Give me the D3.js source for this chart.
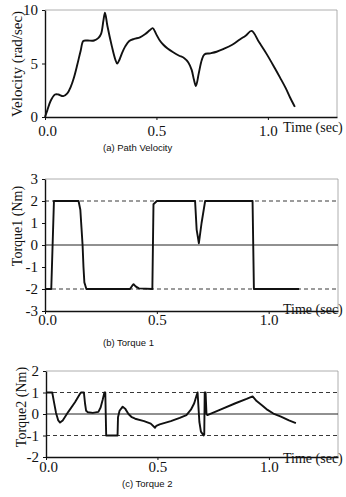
<!DOCTYPE html>
<html>
<head>
<meta charset="utf-8">
<script src="https://cdn.jsdelivr.net/npm/d3@7"></script>
<style>
  body { margin: 0; background: #fff; }
  svg { display: block; }
  .caption { font-family: "Liberation Sans Narrow", "Liberation Sans", Arial, sans-serif; font-size: 9.5px; fill: #111; }
  .title { font-family: "Liberation Serif", "Times New Roman", serif; fill: #111; }
</style>
</head>
<body>
<div id="chart"></div>
<script>
// x ticks shared by the three panels
const timeTicks = [0, 0.5, 1.0];

// (a) path velocity
const velTime = [0, 0.01, 0.025, 0.045, 0.06, 0.082, 0.10, 0.115, 0.13, 0.145, 0.16, 0.172, 0.19, 0.22, 0.24, 0.252, 0.262, 0.269, 0.28, 0.30, 0.315, 0.324, 0.335, 0.345, 0.36, 0.378, 0.40, 0.426, 0.45, 0.47, 0.483, 0.50, 0.515, 0.531, 0.55, 0.575, 0.60, 0.625, 0.643, 0.658, 0.668, 0.677, 0.69, 0.703, 0.715, 0.74, 0.77, 0.80, 0.84, 0.874, 0.90, 0.927, 0.96, 0.994, 1.03, 1.054, 1.08, 1.10, 1.121];
const velValue = [0, 0.6, 1.5, 2.1, 2.1, 1.95, 2.2, 2.8, 3.7, 4.9, 6.2, 7.1, 7.15, 7.15, 7.4, 7.8, 9.0, 9.75, 8.5, 6.6, 5.4, 5.0, 5.4, 5.95, 6.6, 7.1, 7.3, 7.45, 7.75, 8.1, 8.3, 7.7, 7.15, 6.75, 6.4, 6.05, 5.75, 5.5, 5.1, 4.4, 3.5, 2.9, 4.1, 5.3, 5.85, 5.95, 6.1, 6.35, 6.75, 7.25, 7.6, 8.05, 7.0, 5.9, 4.6, 3.7, 2.7, 1.8, 0.95];
const velTicks = [0, 5, 10];

// (b) torque 1
const tq1Time = [0, 0.028, 0.04, 0.150, 0.158, 0.163, 0.168, 0.172, 0.176, 0.185, 0.38, 0.39, 0.396, 0.405, 0.42, 0.48, 0.485, 0.50, 0.671, 0.678, 0.688, 0.70, 0.716, 0.928, 0.934, 1.136];
const tq1Value = [-2, -2, 2, 2, 1.6, 0.8, 0, -1.0, -1.7, -2, -2, -1.85, -1.78, -1.88, -1.97, -2, 1.85, 2, 2, 0.7, 0.08, 1.0, 2, 2, -2, -2];
const tq1Ticks = [-3, -2, -1, 0, 1, 2, 3];
const tq1Limits = [-2, 2];

// (c) torque 2
const tq2Time = [0, 0.028, 0.035, 0.045, 0.055, 0.063, 0.075, 0.10, 0.13, 0.15, 0.157, 0.170, 0.175, 0.180, 0.188, 0.21, 0.235, 0.245, 0.254, 0.262, 0.266, 0.27, 0.321, 0.323, 0.33, 0.344, 0.355, 0.37, 0.385, 0.40, 0.44, 0.47, 0.489, 0.495, 0.51, 0.56, 0.60, 0.63, 0.65, 0.665, 0.675, 0.68, 0.688, 0.695, 0.707, 0.71, 0.712, 0.716, 0.72, 0.724, 0.785, 0.85, 0.90, 0.927, 0.945, 0.97, 0.994, 1.02, 1.054, 1.09, 1.121];
const tq2Value = [1.0, 1.0, 0.6, 0.05, -0.3, -0.4, -0.3, 0.1, 0.55, 0.9, 1.0, 1.0, 0.5, 0.15, 0.08, 0.05, 0.1, 0.3, 0.65, 1.0, 1.0, -1.0, -1.0, -0.15, 0.15, 0.34, 0.25, 0.0, -0.15, -0.22, -0.33, -0.45, -0.64, -0.55, -0.48, -0.33, -0.18, -0.05, 0.2, 0.5, 0.85, 1.0, -0.36, -0.82, -1.0, -0.95, 1.0, 1.0, 0.0, -0.05, 0.22, 0.5, 0.7, 0.82, 0.6, 0.4, 0.19, 0.02, -0.12, -0.3, -0.42];
const tq2Ticks = [-2, -1, 0, 1, 2];
const tq2Limits = [-1, 1];

const serif = '"Liberation Serif", "Times New Roman", serif';

const svg = d3.select("#chart").append("svg")
    .attr("width", 346)
    .attr("height", 497);

function drawPanel(p) {
    const x = d3.scaleLinear().domain([0, 1.31]).range([p.left, p.right]);
    const y = d3.scaleLinear().domain(p.yDomain).range([p.bottom, p.top]);
    const g = svg.append("g");

    // light frame on top and right
    g.append("path")
        .attr("d", `M${p.left},${p.top}H${p.right}V${p.bottom}`)
        .attr("fill", "none")
        .attr("stroke", "#999")
        .attr("stroke-width", 0.8);

    // dashed limit lines
    (p.limits || []).forEach(v => {
        g.append("line")
            .attr("x1", p.left).attr("x2", p.right)
            .attr("y1", y(v)).attr("y2", y(v))
            .attr("stroke", "#222")
            .attr("stroke-width", 0.9)
            .attr("stroke-dasharray", "4,3");
    });

    // zero line
    if (p.zero) {
        g.append("line")
            .attr("x1", p.left).attr("x2", p.right)
            .attr("y1", y(0)).attr("y2", y(0))
            .attr("stroke", "#222")
            .attr("stroke-width", 1);
    }

    // axes
    const xAxis = d3.axisBottom(x)
        .tickValues(timeTicks)
        .tickFormat(d3.format(".1f"))
        .tickSizeInner(3).tickSizeOuter(0)
        .tickPadding(p.xPad);
    const yAxis = d3.axisLeft(y)
        .tickValues(p.yTicks)
        .tickFormat(d => d < 0 ? "-" + Math.abs(d) : d)
        .tickSizeInner(3).tickSizeOuter(0)
        .tickPadding(4);

    const gx = g.append("g")
        .attr("transform", `translate(0,${p.bottom})`)
        .call(xAxis);
    const gy = g.append("g")
        .attr("transform", `translate(${p.left},0)`)
        .call(yAxis);

    [gx, gy].forEach(a => {
        a.attr("font-family", null).attr("font-size", null);
        a.select(".domain").attr("stroke", "#111").attr("stroke-width", 1.4);
        a.selectAll(".tick line").attr("stroke", "#111");
        a.selectAll(".tick text")
            .style("font-family", serif)
            .style("font-size", "15px")
            .attr("fill", "#111");
    });
    gx.selectAll(".tick text").attr("dx", d => d === 0 ? 2 : 0);

    // curve
    const pts = p.time.map((t, i) => [t, p.values[i]]);
    g.append("path")
        .datum(pts)
        .attr("fill", "none")
        .attr("stroke", "#111")
        .attr("stroke-width", 1.9)
        .attr("stroke-linejoin", "round")
        .attr("d", d3.line()
            .x(d => x(d[0]))
            .y(d => y(d[1]))
            .curve(p.smooth ? d3.curveCatmullRom.alpha(0.5) : d3.curveLinear));

    // axis titles
    g.append("text")
        .attr("class", "title")
        .attr("x", 283)
        .attr("y", p.timeY)
        .style("font-size", "14px")
        .text("Time (sec)");

    g.append("text")
        .attr("class", "title")
        .attr("transform", `translate(${p.yTitleX},${p.yTitleY}) rotate(-90)`)
        .attr("text-anchor", "middle")
        .style("font-size", p.yTitleSize)
        .text(p.yTitle);

    g.append("text")
        .attr("class", "caption")
        .attr("x", p.capX)
        .attr("y", p.capY)
        .text(p.caption);
}

drawPanel({
    left: 45, right: 337, top: 10, bottom: 117,
    yDomain: [0, 10], yTicks: velTicks,
    time: velTime, values: velValue, smooth: true,
    xPad: 5, timeY: 132,
    yTitle: "Velocity (rad/sec)", yTitleX: 22, yTitleY: 64, yTitleSize: "15px",
    caption: "(a) Path Velocity", capX: 103, capY: 151
});

drawPanel({
    left: 45, right: 338, top: 179, bottom: 311,
    yDomain: [-3, 3], yTicks: tq1Ticks, limits: tq1Limits, zero: true,
    time: tq1Time, values: tq1Value,
    xPad: 0, timeY: 314,
    yTitle: "Torque1 (Nm)", yTitleX: 22, yTitleY: 226, yTitleSize: "14px",
    caption: "(b) Torque 1", capX: 103, capY: 346
});

drawPanel({
    left: 46, right: 338, top: 371, bottom: 457,
    yDomain: [-2, 2], yTicks: tq2Ticks, limits: tq2Limits, zero: true,
    time: tq2Time, values: tq2Value,
    xPad: 1.5, timeY: 463,
    yTitle: "Torque2 (Nm)", yTitleX: 26, yTitleY: 407, yTitleSize: "14px",
    caption: "(c) Torque 2", capX: 122, capY: 487
});
</script>
</body>
</html>
